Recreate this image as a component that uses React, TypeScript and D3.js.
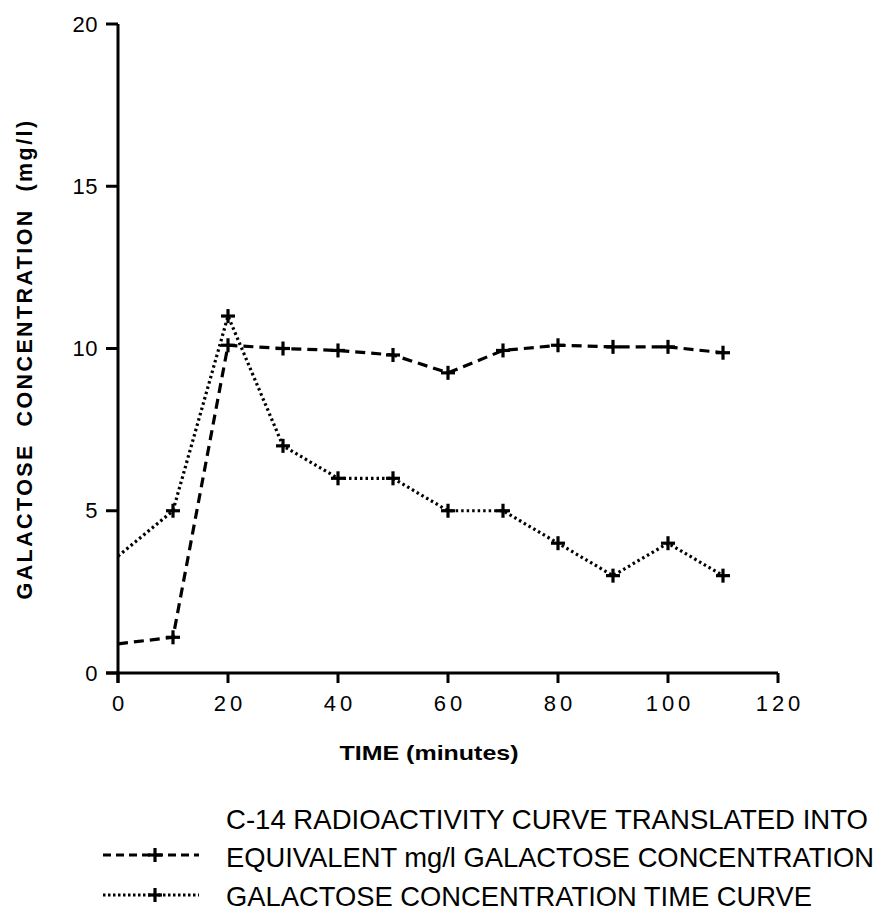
import React from "react";
import * as d3 from "d3";

const times = [0, 10, 20, 30, 40, 50, 60, 70, 80, 90, 100, 110];
const c14Values = [0.9, 1.1, 10.1, 10.0, 9.94, 9.8, 9.25, 9.94, 10.1, 10.05, 10.05, 9.87];
const galValues = [3.6, 5.0, 11.0, 7.0, 6.0, 6.0, 5.0, 5.0, 4.0, 3.0, 4.0, 3.0];
const xTicks = [0, 20, 40, 60, 80, 100, 120];
const yTicks = [0, 5, 10, 15, 20];
const xTitle = "TIME (minutes)";
const yTitle = "GALACTOSE\u00a0\u00a0CONCENTRATION\u00a0\u00a0(mg/l)";
const legendLines = [
  "C-14 RADIOACTIVITY CURVE TRANSLATED INTO",
  "EQUIVALENT mg/l GALACTOSE CONCENTRATION",
  "GALACTOSE CONCENTRATION TIME CURVE",
];

const W = 888;
const H = 915;

export default function App() {
  const x = d3.scaleLinear().domain([0, 120]).range([118, 778]);
  const y = d3.scaleLinear().domain([0, 20]).range([673, 24]);
  const line = d3
    .line<number>()
    .x((_, i) => x(times[i]))
    .y((d) => y(d));

  const plus = (cx: number, cy: number, key: string, s = 7) => (
    <g key={key}>
      <line x1={cx - s} x2={cx + s} y1={cy} y2={cy} stroke="#000" strokeWidth={3.2} />
      <line x1={cx} x2={cx} y1={cy - s} y2={cy + s} stroke="#000" strokeWidth={3.2} />
    </g>
  );

  const font = "'Liberation Sans', Arial, Helvetica, sans-serif";

  return (
    <svg
      width={W}
      height={H}
      style={{ position: "absolute", left: 0, top: 0, background: "#fff" }}
      fontFamily={font}
    >
      <rect x={0} y={0} width={W} height={H} fill="#fff" />
      {/* axes */}
      <line x1={x(0)} x2={x(0)} y1={y(20)} y2={y(0) + 10} stroke="#000" strokeWidth={3} />
      <line x1={x(0) - 12} x2={x(120)} y1={y(0)} y2={y(0)} stroke="#000" strokeWidth={3} />
      {yTicks.map((t) => (
        <g key={"yt" + t}>
          <line x1={x(0) - 12} x2={x(0)} y1={y(t)} y2={y(t)} stroke="#000" strokeWidth={3} />
          <text
            x={x(0) - 20}
            y={y(t)}
            textAnchor="end"
            dominantBaseline="central"
            fontSize={22}
            letterSpacing={0.5}
          >
            {t}
          </text>
        </g>
      ))}
      {xTicks.map((t) => (
        <g key={"xt" + t}>
          <line x1={x(t)} x2={x(t)} y1={y(0)} y2={y(0) + 10} stroke="#000" strokeWidth={3} />
          <text
            x={x(t) + 2}
            y={703}
            textAnchor="middle"
            dominantBaseline="central"
            fontSize={22}
            letterSpacing={4}
          >
            {t}
          </text>
        </g>
      ))}
      <text
        x={429}
        y={752}
        textAnchor="middle"
        dominantBaseline="central"
        fontSize={21}
        fontWeight="bold"
        textLength={179}
        lengthAdjust="spacingAndGlyphs"
      >
        {xTitle}
      </text>
      <text
        transform={`translate(25, 359) rotate(-90)`}
        textAnchor="middle"
        dominantBaseline="central"
        fontSize={21.5}
        fontWeight="bold"
        letterSpacing={2.4}
      >
        {yTitle}
      </text>

      {/* series */}
      <path
        d={line(c14Values) || ""}
        fill="none"
        stroke="#000"
        strokeWidth={3.2}
        strokeDasharray="10 6"
      />
      <path
        d={line(galValues) || ""}
        fill="none"
        stroke="#000"
        strokeWidth={3.2}
        strokeDasharray="2.5 3"
      />
      {c14Values.map((v, i) => (i === 0 ? null : plus(x(times[i]), y(v), "c" + i)))}
      {galValues.map((v, i) => (i === 0 ? null : plus(x(times[i]), y(v), "g" + i)))}

      {/* legend */}
      <line x1={103} x2={199} y1={855} y2={855} stroke="#000" strokeWidth={3} strokeDasharray="8 5" />
      {plus(155, 855, "lg1", 7)}
      <line x1={103} x2={199} y1={895} y2={895} stroke="#000" strokeWidth={3} strokeDasharray="2.5 2.5" />
      {plus(155, 895, "lg2", 7)}
      {legendLines.map((s, i) => (
        <g key={"lt" + i} transform={`translate(226, ${819 + i * 38.5}) scale(1, 1.18)`}>
          <text
            x={0}
            y={0}
            dominantBaseline="central"
            fontSize={23.5}
            textLength={[642, 648, 586][i]}
            lengthAdjust="spacingAndGlyphs"
          >
            {s}
          </text>
        </g>
      ))}
    </svg>
  );
}
